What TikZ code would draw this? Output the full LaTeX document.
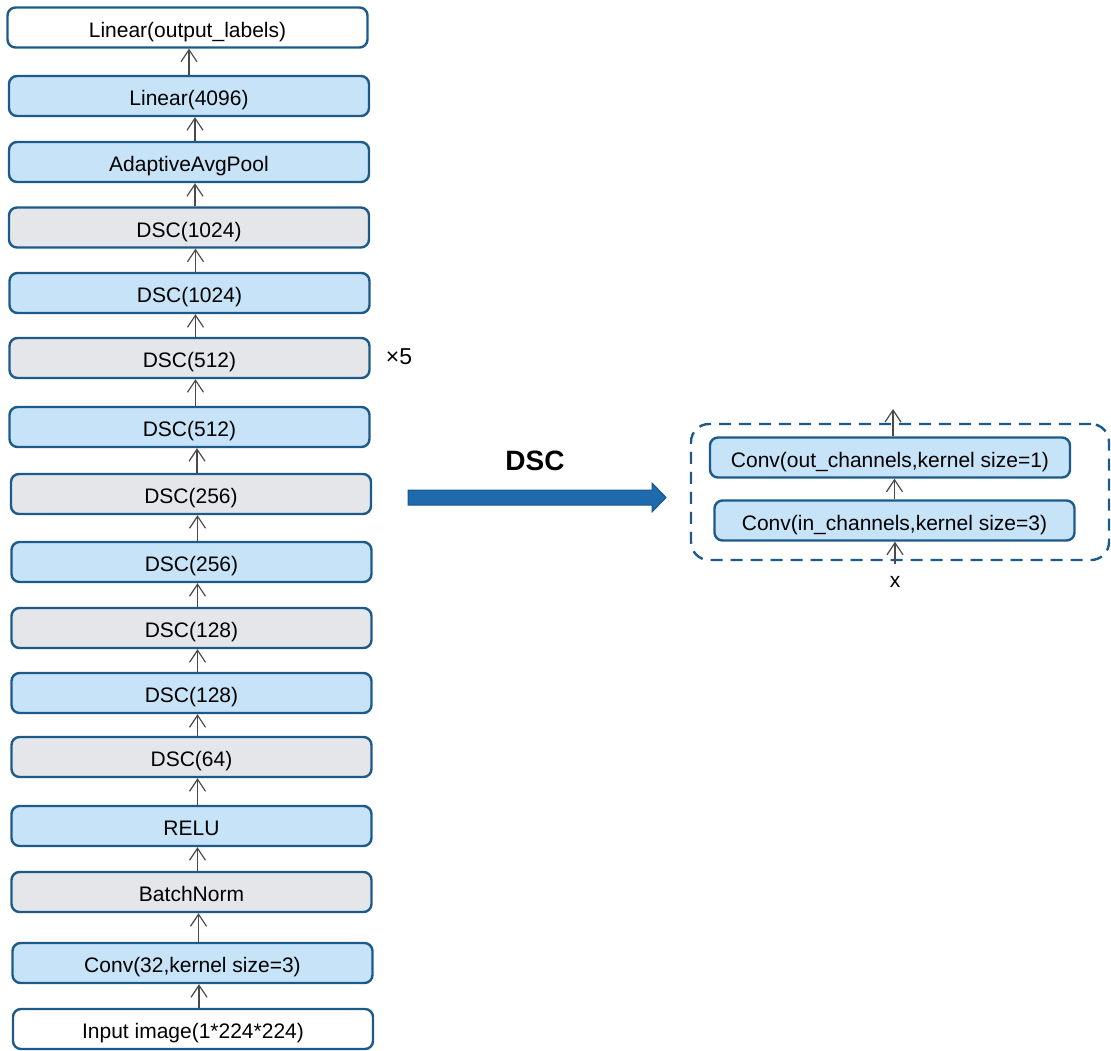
\documentclass[tikz,border=0pt]{standalone}
\usepackage{fontspec}
\setmainfont{Liberation Sans}
\usetikzlibrary{arrows.meta,calc}
\definecolor{bfill}{HTML}{C6E3F7}
\definecolor{gfill}{HTML}{E5E6EA}
\definecolor{bord}{HTML}{1D5A8A}
\definecolor{arrc}{HTML}{4A4A4A}
\definecolor{bigfill}{HTML}{1E6AAC}
\definecolor{bigdraw}{HTML}{18558C}
\begin{document}
\begin{tikzpicture}[x=1pt,y=-1pt,
  box/.style={draw=bord, line width=2.4pt, rounded corners=8pt,
    minimum width=360pt, minimum height=40pt, inner sep=0pt,
    text height=19pt, text depth=0pt,
    font=\fontsize{21}{24}\selectfont},
  bluebox/.style={box, fill=bfill},
  graybox/.style={box, fill=gfill},
  whitebox/.style={box, fill=white},
  arr/.style={draw=arrc, line width=1.2pt,
    -{Straight Barb[length=12pt,width=16pt,line width=1.2pt]}},
  lbl/.style={font=\fontsize{21}{24}\selectfont, inner sep=2pt}]
\useasboundingbox (0,0) rectangle (1111,1050);
% left column
\node[whitebox] (n1)  at (187.5,27.5) {Linear(output\_labels)};
\node[bluebox]  (n2)  at (189,96)     {Linear(4096)};
\node[bluebox]  (n3)  at (189,162)    {AdaptiveAvgPool};
\node[graybox]  (n4)  at (189,227.5)  {DSC(1024)};
\node[bluebox]  (n5)  at (189.5,293)  {DSC(1024)};
\node[graybox]  (n6)  at (189.5,358)  {DSC(512)};
\node[bluebox]  (n7)  at (189.5,427)  {DSC(512)};
\node[graybox]  (n8)  at (191,494)    {DSC(256)};
\node[bluebox]  (n9)  at (191.5,562)  {DSC(256)};
\node[graybox]  (n10) at (191.5,628)  {DSC(128)};
\node[bluebox]  (n11) at (191.5,693)  {DSC(128)};
\node[graybox]  (n12) at (191.5,757)  {DSC(64)};
\node[bluebox]  (n13) at (191.5,826)  {RELU};
\node[graybox]  (n14) at (191.5,892)  {BatchNorm};
\node[bluebox]  (n15) at (192.5,963)  {Conv(32,kernel size=3)};
\node[whitebox] (n16) at (193,1029)   {Input image(1*224*224)};
% arrows
\draw[arr] (n2.north) -- (n2.north |- n1.south);
\foreach \a/\b in {n2/n3,n3/n4,n4/n5,n5/n6,n6/n7,n7/n8,n8/n9,n9/n10,n10/n11,n11/n12,n12/n13,n13/n14,n14/n15,n15/n16}{
  \draw[arr] ([xshift=6pt]\b.north) -- ([xshift=6pt]\b.north |- \a.south);
}
\node[font=\fontsize{23}{26}\selectfont, inner sep=2pt] (times) at (399,357) {×5};
% big arrow
\node[font=\fontsize{28}{30}\selectfont\bfseries] (dsclbl) at (535,461) {DSC};
\draw[fill=bigfill, draw=bigdraw, line width=1pt, line join=miter]
  (408,490) -- (652,490) -- (652,483) -- (666,497.5) -- (652,512) -- (652,505) -- (408,505) -- cycle;
% DSC block
\node[draw=bord, line width=2.4pt, dash pattern=on 12pt off 8pt, rounded corners=18pt,
  minimum width=418pt, minimum height=136pt, inner sep=0pt] (dscbox) at (900,492) {};
\node[bluebox] (cout) at (890,457.5) {Conv(out\_channels,kernel size=1)};
\node[bluebox] (cin)  at (894.5,520.5) {Conv(in\_channels,kernel size=3)};
\node[lbl] (xin) at (895,582) {x};
\coordinate (outtop) at (893,409);
\draw[arr] ([yshift=10pt]xin.north) -- (xin.north |- cin.south);
\draw[arr] (cin.north) -- (cin.north |- cout.south);
\draw[arr] (cout.north -| outtop) -- (outtop);
\end{tikzpicture}
\end{document}
